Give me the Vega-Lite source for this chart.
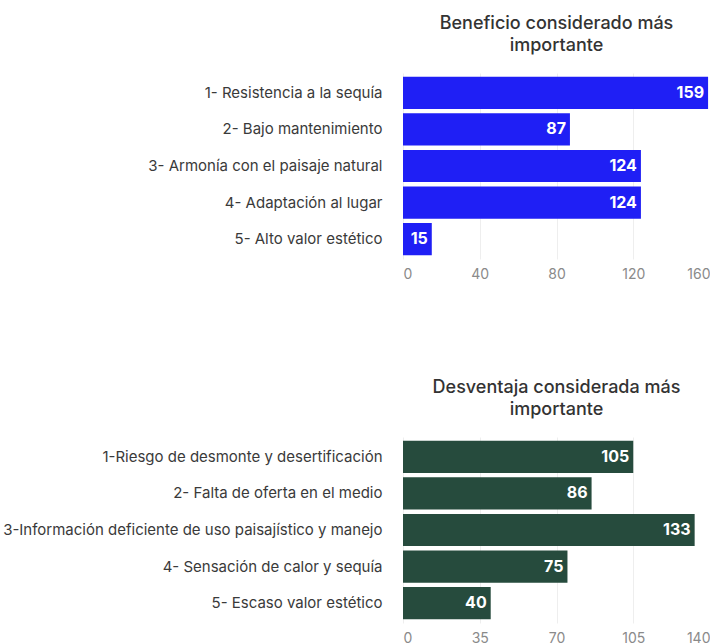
{
  "$schema": "https://vega.github.io/schema/vega-lite/v6.json",
  "padding": {"left": 2, "top": 15, "right": 0, "bottom": 0},
  "background": "white",
  "spacing": 98,
  "config": {
    "view": {"stroke": null},
    "title": {"font": "Inter", "fontSize": 18, "fontWeight": 500, "color": "#333333", "anchor": "middle", "lineHeight": 22, "offset": 18},
    "axisY": {"labelFont": "Inter", "labelFontSize": 15, "labelColor": "#3a3a3a", "labelLimit": 420, "ticks": false, "domain": false, "grid": false, "labelPadding": 21, "title": null},
    "axisX": {"labelFont": "Inter", "labelFontSize": 14, "labelColor": "#8a8a8a", "ticks": false, "domain": false, "grid": true, "gridColor": "#eeeeee", "labelPadding": 8, "title": null}
  },
  "datasets": {
    "beneficio": [
      {"categoria": "1- Resistencia a la sequía", "valor": 159},
      {"categoria": "2- Bajo mantenimiento", "valor": 87},
      {"categoria": "3- Armonía con el paisaje natural", "valor": 124},
      {"categoria": "4- Adaptación al lugar", "valor": 124},
      {"categoria": "5- Alto valor estético", "valor": 15}
    ],
    "desventaja": [
      {"categoria": "1-Riesgo de desmonte y desertificación", "valor": 105},
      {"categoria": "2- Falta de oferta en el medio", "valor": 86},
      {"categoria": "3-Información deficiente de uso paisajístico y manejo", "valor": 133},
      {"categoria": "4- Sensación de calor y sequía", "valor": 75},
      {"categoria": "5- Escaso valor estético", "valor": 40}
    ]
  },
  "vconcat": [
    {
      "title": {"text": ["Beneficio considerado más", "importante"]},
      "width": 307,
      "height": 186,
      "data": {"name": "beneficio"},
      "encoding": {
        "y": {"field": "categoria", "type": "nominal", "sort": null, "scale": {"paddingInner": 0.12, "paddingOuter": 0.1}},
        "x": {"field": "valor", "type": "quantitative", "scale": {"domain": [0, 160]}, "axis": {"values": [0, 40, 80, 120, 160]}}
      },
      "layer": [
        {"mark": {"type": "bar", "color": "#1f1ff5"}},
        {"mark": {"type": "text", "align": "right", "dx": -4, "color": "white", "font": "Inter", "fontSize": 16, "fontWeight": "bold"}, "encoding": {"text": {"field": "valor", "type": "quantitative"}}}
      ]
    },
    {
      "title": {"text": ["Desventaja considerada más", "importante"]},
      "width": 307,
      "height": 186,
      "data": {"name": "desventaja"},
      "encoding": {
        "y": {"field": "categoria", "type": "nominal", "sort": null, "scale": {"paddingInner": 0.12, "paddingOuter": 0.1}},
        "x": {"field": "valor", "type": "quantitative", "scale": {"domain": [0, 140]}, "axis": {"values": [0, 35, 70, 105, 140]}}
      },
      "layer": [
        {"mark": {"type": "bar", "color": "#264b3d"}},
        {"mark": {"type": "text", "align": "right", "dx": -4, "color": "white", "font": "Inter", "fontSize": 16, "fontWeight": "bold"}, "encoding": {"text": {"field": "valor", "type": "quantitative"}}}
      ]
    }
  ]
}
